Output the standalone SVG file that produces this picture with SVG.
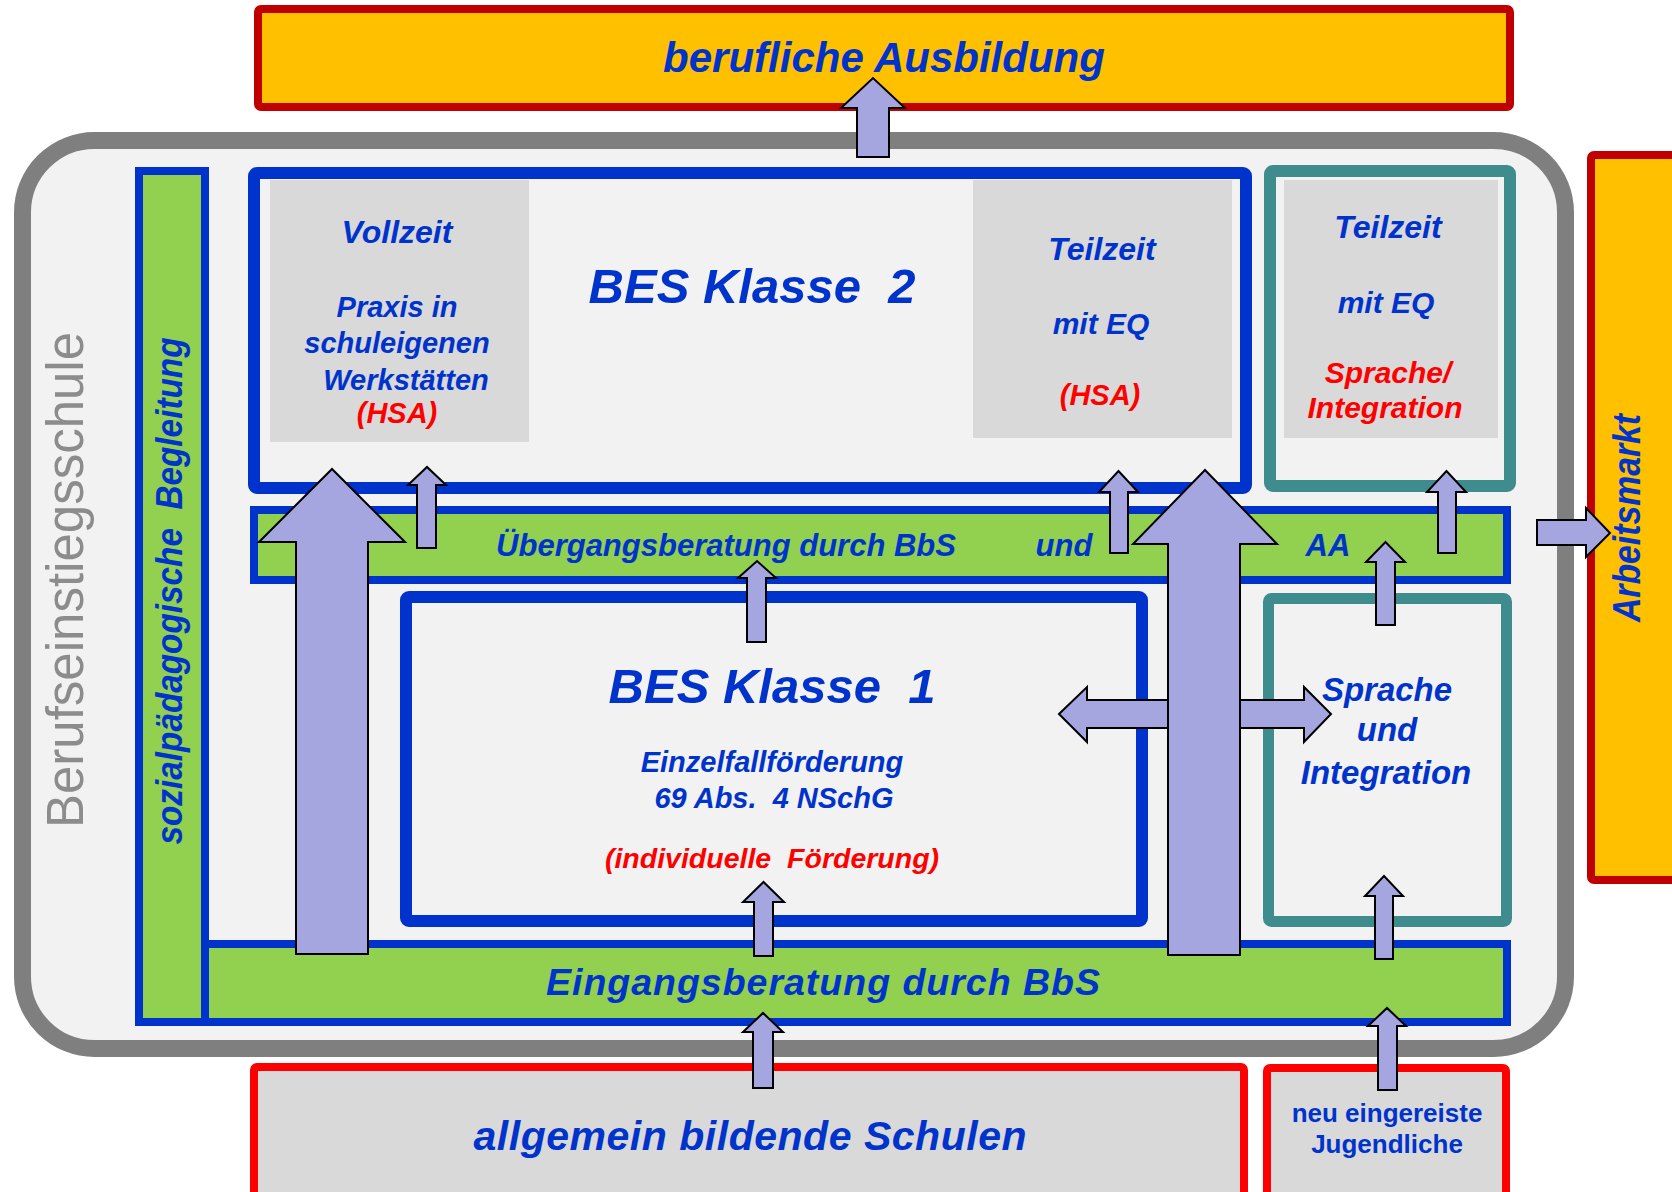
<svg xmlns="http://www.w3.org/2000/svg" width="1672" height="1192" viewBox="0 0 1672 1192">
<style>
.t{font-family:"Liberation Sans",Arial,sans-serif;font-weight:bold;font-style:italic;fill:#0033CC;text-anchor:middle}
.r{fill:#FF0000}
.up{font-style:normal}
.blue{stroke:#0033CC}
.teal{stroke:#3E8C8E;fill:#F2F2F2}
.green{fill:#92D050}
.gray{fill:#D9D9D9}
.arr{fill:#A5A5E0;stroke:#000;stroke-width:2;stroke-linejoin:miter}
</style>
<rect width="1672" height="1192" fill="#FFFFFF"/>

<g id="berufliche-ausbildung">
<rect x="258" y="9" width="1252" height="98" rx="3" fill="#FFC000" stroke="#C00000" stroke-width="8"/>
<text class="t" x="884" y="72" font-size="42">berufliche Ausbildung</text>
</g>

<g id="arbeitsmarkt">
<rect x="1591" y="155" width="100" height="725" rx="3" fill="#FFC000" stroke="#C00000" stroke-width="8"/>
<text class="t" transform="translate(1640,518) rotate(-90)" font-size="38" textLength="208" lengthAdjust="spacingAndGlyphs">Arbeitsmarkt</text>
</g>

<g id="berufseinstiegsschule">
<rect x="22.5" y="140.5" width="1543" height="908" rx="72" fill="#F2F2F2" stroke="#7F7F7F" stroke-width="17"/>
<text transform="translate(83,580) rotate(-90)" font-family="Liberation Sans, Arial, sans-serif" font-size="51" fill="#8C8C8C" text-anchor="middle">Berufseinstiegsschule</text>
</g>

<g id="sozialpaedagogische-begleitung">
<rect x="139" y="171" width="66" height="851" class="green blue" stroke-width="8"/>
<text class="t" transform="translate(182,591) rotate(-90)" font-size="36" textLength="507" lengthAdjust="spacingAndGlyphs">sozialpädagogische&#160; Begleitung</text>
</g>

<g id="bes-klasse-2">
<rect x="254" y="173" width="992" height="315" rx="3" fill="#F2F2F2" class="blue" stroke-width="12"/>
<text class="t" x="752" y="303" font-size="49">BES Klasse&#160; 2</text>
</g>

<g id="vollzeit">
<rect x="270" y="180" width="259" height="262" class="gray"/>
<text class="t" x="397" y="243" font-size="32">Vollzeit</text>
<text class="t" x="397" y="317" font-size="29">Praxis in</text>
<text class="t" x="397" y="353" font-size="29">schuleigenen</text>
<text class="t" x="406" y="390" font-size="29">Werkstätten</text>
<text class="t r" x="397" y="423" font-size="29">(HSA)</text>
</g>

<g id="teilzeit-hsa">
<rect x="973" y="180" width="259" height="258" class="gray"/>
<text class="t" x="1102" y="260" font-size="32">Teilzeit</text>
<text class="t" x="1101" y="334" font-size="30">mit EQ</text>
<text class="t r" x="1100" y="405" font-size="29">(HSA)</text>
</g>

<g id="teilzeit-sprache">
<rect x="1270" y="171" width="240" height="315" rx="3" class="teal" stroke-width="12"/>
<rect x="1284" y="180" width="214" height="258" class="gray"/>
<text class="t" x="1388" y="238" font-size="32">Teilzeit</text>
<text class="t" x="1386" y="313" font-size="30">mit EQ</text>
<text class="t r" x="1388" y="383" font-size="30">Sprache/</text>
<text class="t r" x="1385" y="418" font-size="30">Integration</text>
</g>

<g id="uebergangsberatung">
<rect x="254" y="510" width="1253" height="70" class="green blue" stroke-width="8"/>
<text class="t" x="726" y="556" font-size="31">Übergangsberatung durch BbS</text>
<text class="t" x="1064" y="556" font-size="31">und</text>
<text class="t" x="1328" y="556" font-size="31">AA</text>
</g>

<g id="bes-klasse-1">
<rect x="406" y="597" width="736" height="324" rx="3" fill="#F2F2F2" class="blue" stroke-width="12"/>
<text class="t" x="772" y="703" font-size="49">BES Klasse&#160; 1</text>
<text class="t" x="772" y="772" font-size="29">Einzelfallförderung</text>
<text class="t" x="774" y="808" font-size="29">69 Abs.&#160; 4 NSchG</text>
<text class="t r" x="772" y="868" font-size="28.5">(individuelle&#160; Förderung)</text>
</g>

<g id="sprache-integration">
<rect x="1268.5" y="598.5" width="238" height="323" rx="3" class="teal" stroke-width="11"/>
<text class="t" x="1387" y="701" font-size="33">Sprache</text>
<text class="t" x="1387" y="741" font-size="33">und</text>
<text class="t" x="1386" y="784" font-size="33">Integration</text>
</g>

<g id="eingangsberatung">
<rect x="205" y="944" width="1302" height="78" class="green blue" stroke-width="8"/>
<text class="t" x="823" y="995" font-size="37.5" textLength="554">Eingangsberatung durch BbS</text>
</g>

<g id="allgemein-bildende-schulen">
<rect x="254" y="1067" width="990" height="140" rx="3" class="gray" stroke="#FF0000" stroke-width="8"/>
<text class="t" x="750" y="1150" font-size="41" textLength="553">allgemein bildende Schulen</text>
</g>

<g id="neu-eingereiste">
<rect x="1267" y="1068" width="239" height="140" rx="3" class="gray" stroke="#FF0000" stroke-width="8"/>
<text class="t up" x="1387" y="1122" font-size="26">neu eingereiste</text>
<text class="t up" x="1387" y="1153" font-size="26">Jugendliche</text>
</g>

<g id="connectors">
<polygon class="arr" points="857,157 857,108 841,108 873,78 905,108 889,108 889,157"/>
<polygon class="arr" points="296,954 296,542 259,542 332,469 405,542 368,542 368,954"/>
<polygon class="arr" points="417,548 417,485 408,485 427,467 446,485 436,485 436,548"/>
<polygon class="arr" points="747,642 747,578 738,578 757,561 776,578 766,578 766,642"/>
<polygon class="arr" points="754,956 754,902 743,902 763.5,882 784,902 773,902 773,956"/>
<polygon class="arr" points="753,1088 753,1032 743,1032 763,1013 783,1032 773,1032 773,1088"/>
<polygon class="arr" points="1110,553 1110,492 1099,492 1118.5,471 1138,492 1128,492 1128,553"/>
<polygon class="arr" points="1059,714 1087,687 1087,700 1304,700 1304,687 1331,714 1304,742 1304,728 1087,728 1087,742"/>
<polygon class="arr" points="1168,955 1168,544 1133,544 1205,470 1277,544 1240,544 1240,955"/>
<polygon class="arr" points="1376,625 1376,562 1366,562 1385.5,542 1405,562 1395,562 1395,625"/>
<polygon class="arr" points="1438,553 1438,492 1427,492 1446.5,471 1466,492 1456,492 1456,553"/>
<polygon class="arr" points="1375,959 1375,896 1365,896 1384,876 1403,896 1393,896 1393,959"/>
<polygon class="arr" points="1378,1090 1378,1026 1368,1026 1387,1008 1406,1026 1397,1026 1397,1090"/>
<polygon class="arr" points="1537,520 1586,520 1586,508 1610,533 1586,557 1586,545 1537,545"/>
</g>
</svg>
